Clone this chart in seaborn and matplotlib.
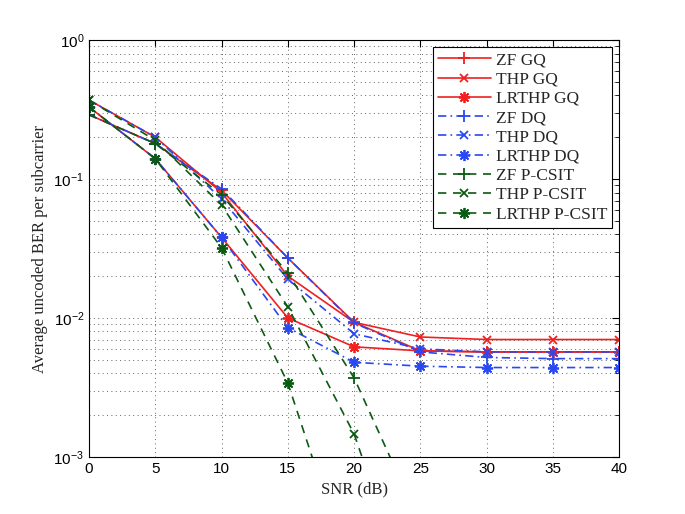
import matplotlib
matplotlib.use("Agg")
import matplotlib.pyplot as plt
import seaborn as sns
from matplotlib.ticker import LogLocator, NullFormatter

sns.set_theme(style="white")
plt.rcParams["font.family"] = ["Liberation Sans", "DejaVu Sans"]

snr = [0, 5, 10, 15, 20, 25, 30, 35, 40]

zf_gq = [0.29, 0.18, 0.083, 0.027, 0.0093, 0.0058, 0.0057, 0.0057, 0.0057]
thp_gq = [0.37, 0.20, 0.080, 0.020, 0.0093, 0.0073, 0.0070, 0.0070, 0.0070]
lrthp_gq = [0.33, 0.14, 0.038, 0.010, 0.0062, 0.0058, 0.0057, 0.0057, 0.0057]

zf_dq = [0.29, 0.18, 0.085, 0.027, 0.0092, 0.0057, 0.0052, 0.0051, 0.0051]
thp_dq = [0.37, 0.20, 0.072, 0.019, 0.0077, 0.0060, 0.0057, 0.0057, 0.0057]
lrthp_dq = [0.33, 0.14, 0.038, 0.0085, 0.0048, 0.0045, 0.0044, 0.0044, 0.0044]

zf_pcsit = [0.29, 0.18, 0.077, 0.021, 0.0037, 0.00033]
thp_pcsit = [0.37, 0.19, 0.065, 0.012, 0.00146, 0.00006]
lrthp_pcsit = [0.33, 0.14, 0.032, 0.0034, 0.00012]

red = "#f02020"
blue = "#2a48f0"
green = "#0b5a12"
asterisk = (8, 2, 0)
dashdot = (0, (5, 2.5, 1, 2.5))
dashed = (0, (5, 4))

series = [
    ("ZF GQ", zf_gq, red, "-", "+", 8),
    ("THP GQ", thp_gq, red, "-", "x", 6),
    ("LRTHP GQ", lrthp_gq, red, "-", asterisk, 8),
    ("ZF DQ", zf_dq, blue, dashdot, "+", 8),
    ("THP DQ", thp_dq, blue, dashdot, "x", 6),
    ("LRTHP DQ", lrthp_dq, blue, dashdot, asterisk, 8),
    ("ZF P-CSIT", zf_pcsit, green, dashed, "+", 8),
    ("THP P-CSIT", thp_pcsit, green, dashed, "x", 6),
    ("LRTHP P-CSIT", lrthp_pcsit, green, dashed, asterisk, 8),
]

fig = plt.figure(figsize=(6.85, 5.14), dpi=100)
ax = fig.add_axes([0.130, 0.111, 0.774, 0.811])

for label, values, color, ls, marker, ms in series:
    sns.lineplot(x=snr[:len(values)], y=values, ax=ax, color=color, linestyle=ls,
                 linewidth=1.2, marker=marker, markersize=ms, markeredgewidth=1.3,
                 markeredgecolor=color, markerfacecolor=color, label=label,
                 errorbar=None)

ax.set_yscale("log")
ax.set_xlim(0, 40)
ax.set_ylim(1e-3, 1)
ax.set_xticks(range(0, 41, 5))
ax.yaxis.set_major_locator(LogLocator(base=10, numticks=10))
ax.yaxis.set_minor_locator(LogLocator(base=10, subs=range(2, 10), numticks=20))
ax.yaxis.set_minor_formatter(NullFormatter())

grid_style = dict(linestyle=(0, (1, 3.5)), color="0.4", linewidth=0.7)
ax.grid(True, which="major", **grid_style)
ax.yaxis.grid(True, which="minor", **grid_style)

ax.tick_params(which="both", direction="in", top=True, right=True, colors="black",
               labelsize=11)
ax.tick_params(which="major", length=5, width=0.8)
ax.tick_params(which="minor", length=3, width=0.6)
for sp in ax.spines.values():
    sp.set_color("black")
    sp.set_linewidth(0.8)

ax.set_xlabel("SNR (dB)", family="Liberation Serif", fontsize=12)
ax.set_ylabel("Average uncoded BER per subcarrier", family="Liberation Serif", fontsize=12)

leg = ax.legend(loc="upper right", prop={"family": "Liberation Serif", "size": 12.5},
                frameon=True, fancybox=False, edgecolor="black", framealpha=1,
                handlelength=3.0, handletextpad=0.3, borderpad=0.3,
                borderaxespad=0.4, labelspacing=0.18)
leg.get_frame().set_linewidth(0.8)

fig.savefig("out.png", dpi=100, facecolor="white")
